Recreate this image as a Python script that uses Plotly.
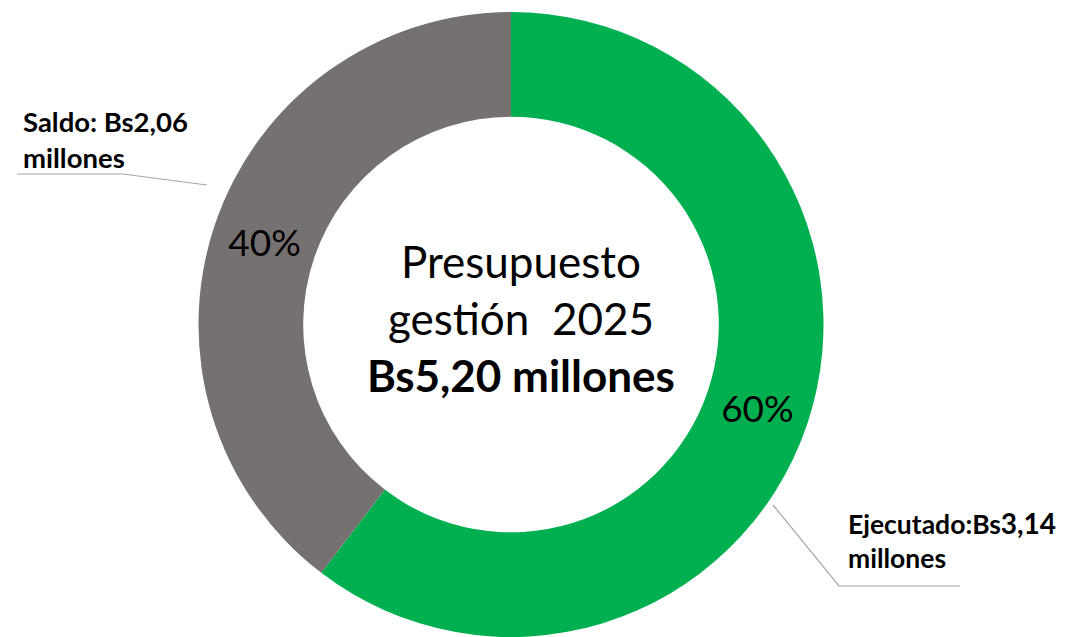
import plotly.graph_objects as go

# ---- data ----
labels = ["Ejecutado", "Saldo"]
values = [3.14, 2.06]
colors = ["#00B050", "#767171"]
center_title = ["Presupuesto", "gestión  2025"]

W, H = 1066, 637
FONT = "Lato, 'Open Sans', sans-serif"


def fmt(v):
    return f"{v:.2f}".replace(".", ",")


def px(x, y):
    return x / W, 1 - y / H


total = sum(values)

fig = go.Figure()
fig.add_trace(go.Pie(
    labels=labels,
    values=values,
    hole=0.665,
    sort=False,
    direction="clockwise",
    rotation=0,
    marker=dict(colors=colors, line=dict(width=0)),
    texttemplate="%{percent:.0%}",
    textposition="inside",
    insidetextorientation="horizontal",
    textfont=dict(family=FONT, size=37, color="#000000"),
    domain=dict(x=[(511 - 400) / W, (511 + 400) / W], y=[0, 1 - 12 / H]),
    showlegend=False,
    hoverinfo="label+value+percent",
))

# center text
cx, cy = px(521, 318)
fig.add_annotation(
    x=cx, y=cy, xref="paper", yref="paper", xanchor="center", yanchor="middle",
    text=f"{center_title[0]}<br>{center_title[1]}<br><b>Bs{fmt(total)} millones</b>",
    showarrow=False, align="center",
    font=dict(family=FONT, size=44, color="#000000"),
)

# outer labels
sx, sy = px(21, 139)
fig.add_annotation(
    x=sx, y=sy, xref="paper", yref="paper", xanchor="left", yanchor="middle",
    text=f"<b>{labels[1]}: Bs{fmt(values[1])}<br>millones</b>",
    showarrow=False, align="left",
    font=dict(family=FONT, size=27.5, color="#000000"),
)
ex, ey = px(846, 540)
fig.add_annotation(
    x=ex, y=ey, xref="paper", yref="paper", xanchor="left", yanchor="middle",
    text=f"<b>{labels[0]}:Bs<span style='font-size:28px'>{fmt(values[0])}</span><br>millones</b>",
    showarrow=False, align="left",
    font=dict(family=FONT, size=26.5, color="#000000"),
)


def path(points):
    parts = []
    for i, (x, y) in enumerate(points):
        X, Y = px(x, y)
        parts.append(("M" if i == 0 else "L") + f"{X:.5f},{Y:.5f}")
    return " ".join(parts)


fig.add_shape(type="path", xref="paper", yref="paper",
              path=path([(17, 174), (123, 174), (207, 185)]),
              line=dict(color="#A6A6A6", width=1.2))
fig.add_shape(type="path", xref="paper", yref="paper",
              path=path([(773, 505), (839, 586), (960, 586)]),
              line=dict(color="#A6A6A6", width=1.2))

fig.update_layout(
    width=W, height=H,
    margin=dict(l=0, r=0, t=0, b=0, pad=0),
    paper_bgcolor="#FFFFFF",
    plot_bgcolor="#FFFFFF",
    font=dict(family=FONT, color="#000000"),
)

fig.write_html(
    "out.html",
    config={"displayModeBar": False},
    post_script="document.body.style.margin='0';document.body.style.padding='0';",
)
